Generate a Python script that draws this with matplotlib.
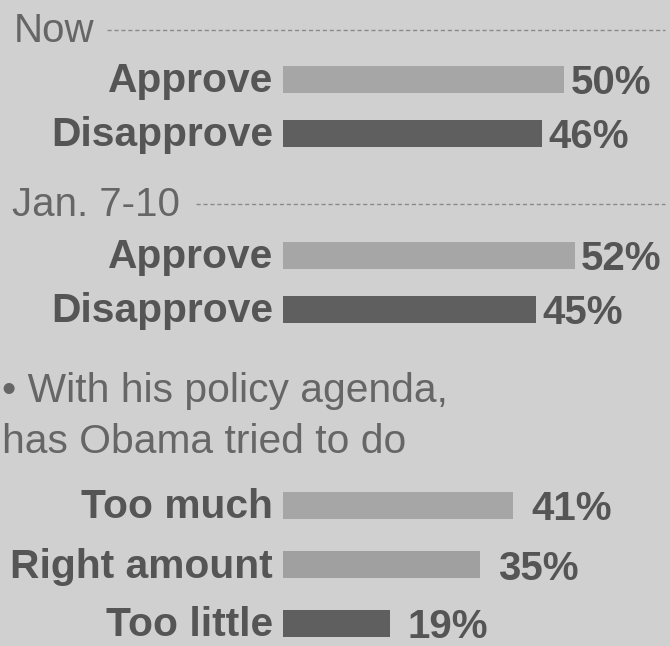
import matplotlib.pyplot as plt
from matplotlib import font_manager

# poll values (percent)
now_labels = ["Approve", "Disapprove"]
now_values = [50, 46]
jan_labels = ["Approve", "Disapprove"]
jan_values = [52, 45]
agenda_labels = ["Too much", "Right amount", "Too little"]
agenda_values = [41, 35, 19]
question = ["\u2022 With his policy agenda,", "has Obama tried to do"]

BG = "#d0d0d0"
TEXT = "#555555"
LIGHT_TEXT = "#666666"
LIGHT_BAR = "#a6a6a6"
DARK_BAR = "#5f5f5f"

names = {f.name for f in font_manager.fontManager.ttflist}
narrow = "Liberation Sans Narrow" if "Liberation Sans Narrow" in names else "Liberation Sans"

fig = plt.figure(figsize=(6.7, 6.46), dpi=100, facecolor=BG)
ax = fig.add_axes([0, 0, 1, 1])
ax.set_facecolor(BG)
# x in percent, 5.62 px per point, bars start at pixel 283; y in pixel rows
px = 5.62
x0 = 283
ax.set_xlim(-x0 / px, (670 - x0) / px)
ax.set_ylim(646, 0)
ax.axis("off")

bar_h = 27


def xp(pixel):
    return (pixel - x0) / px


def draw_group(labels, values, ys, colors, gap):
    ax.barh(ys, values, height=bar_h, color=colors, left=0)
    for y, lab, v in zip(ys, labels, values):
        ax.annotate(lab, (0, y + 13), xytext=(-10, 0), textcoords="offset pixels",
                    ha="right", va="baseline", fontsize=29.3, fontweight="bold",
                    color=TEXT, family="Liberation Sans")
        ax.annotate(f"{v}%", (v, y + 15), xytext=(gap, 0), textcoords="offset pixels",
                    ha="left", va="baseline", fontsize=29, fontweight="bold",
                    color=TEXT, family=narrow)


def header(text, x_px, y_base, line_start):
    ax.text(xp(x_px), y_base, text, ha="left", va="baseline",
            fontsize=29, color=LIGHT_TEXT, family="Liberation Sans")
    ax.plot([xp(line_start), xp(665)], [y_base - 12, y_base - 12],
            ls=(0, (3, 2)), lw=1, color="#8a8a8a")


header("Now", 14, 42, 107)
draw_group(now_labels, now_values, [79, 133.5], [LIGHT_BAR, DARK_BAR], 7)

header("Jan. 7-10", 12, 216, 196)
draw_group(jan_labels, jan_values, [255.5, 309.5], [LIGHT_BAR, DARK_BAR], 6)

for line, yb in zip(question, [402, 453]):
    ax.text(xp(2), yb, line, ha="left", va="baseline", fontsize=29.3,
            color=LIGHT_TEXT, family="Liberation Sans")

draw_group(agenda_labels, agenda_values, [505.5, 564.5, 623.5],
           [LIGHT_BAR, "#a0a0a0", DARK_BAR], 18)

fig.savefig("out.png", dpi=100, facecolor=BG)
